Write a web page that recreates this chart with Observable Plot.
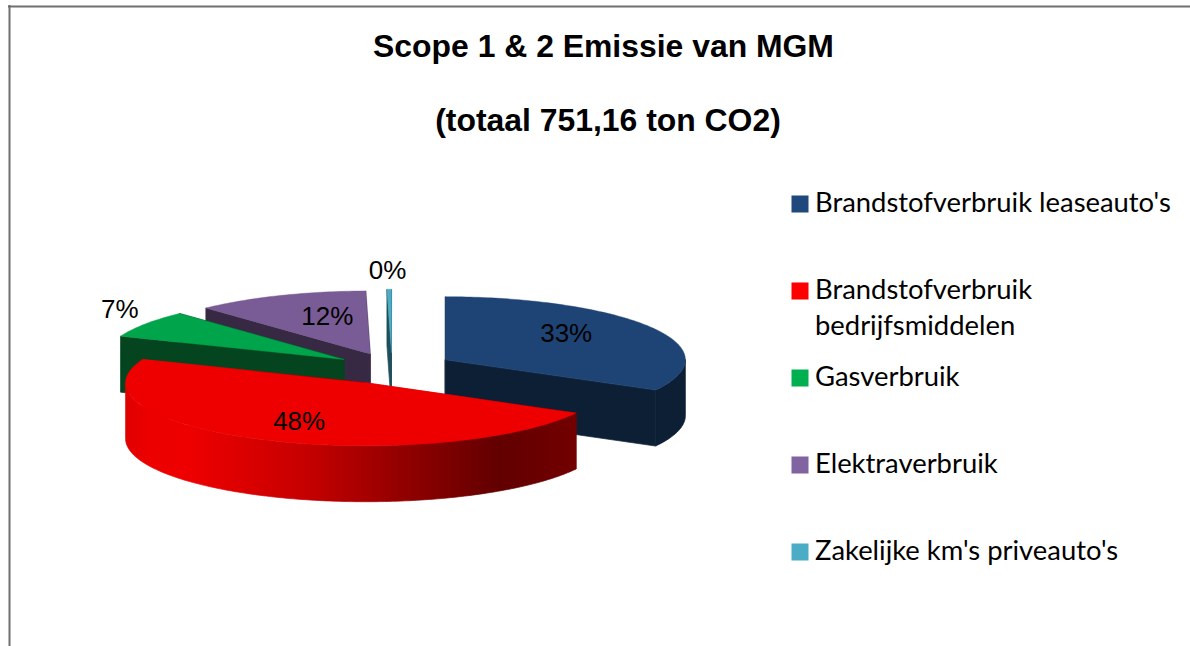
<!DOCTYPE html>
<html>
<head>
<meta charset="utf-8">
<script src="https://cdn.jsdelivr.net/npm/d3@7"></script>
<script src="https://cdn.jsdelivr.net/npm/@observablehq/plot@0.6"></script>
<style>html,body{margin:0;padding:0;background:#fff;overflow:hidden}svg{display:block}</style>
</head>
<body>
<div id="chart"></div>
<script>
const categories = ["Brandstofverbruik leaseauto's", "Brandstofverbruik\nbedrijfsmiddelen", "Gasverbruik", "Elektraverbruik", "Zakelijke km's priveauto's"];
const shares = [33.0, 48.0, 7.0, 11.7, 0.3];
const titleLines = ["Scope 1 & 2 Emissie van MGM", "(totaal 751,16 ton CO2)"];
const legendColors = ["#1F497D", "#FF0000", "#00B050", "#8064A2", "#4BACC6"];
const topColors = ["#1E4475", "#EE0000", "#00A44A", "#795C96", "#4BACC6"];
const sideColors = ["#0D1F35", "url(#redSide)", "#04451F", "#372943", "#1E4F5C"];
const paintOrder = [4, 3, 2, 0, 1];
const explodes = [62, 62, 58.4, 58, 60];
const labelPull = [0.585, 0.65, 1.128, 0.484, 1.3];
const labelNudge = [[0, -7], [0, 2], [0, -10], [1, -9], [-1, 0]];

const W = 1190, H = 646;
const pie = {cx: 391.5, cy: 367.5, rx: 240, ry: 63, depth: 56};
const rad = (d) => d * Math.PI / 180;

const total = d3.sum(shares);
let acc = 0;
const slices = shares.map((v, i) => {
  const a0 = acc * 360 / total; acc += v; const a1 = acc * 360 / total;
  const mid = (a0 + a1) / 2;
  const ax = pie.cx + explodes[i] * Math.sin(rad(mid));
  const ay = pie.cy - explodes[i] * Math.cos(rad(mid)) * pie.ry / pie.rx;
  const at = (deg, k = 1) => ({x: ax + k * pie.rx * Math.sin(rad(deg)), y: ay - k * pie.ry * Math.cos(rad(deg))});
  return {i, a0, a1, mid, ax, ay, at};
});
const arc = (s, from, to) => {
  const n = Math.max(2, Math.ceil(to - from));
  return d3.range(n + 1).map((j) => s.at(from + (to - from) * j / n));
};
const drop = (p) => ({x: p.x, y: p.y + pie.depth});

const faceMarks = [];
const face = (pts, fill, sw = 0.7) => faceMarks.push(Plot.line(pts, {x: "x", y: "y", fill, stroke: fill, strokeWidth: sw, curve: "linear-closed"}));
for (const idx of paintOrder) {
  const s = slices[idx], apex = {x: s.ax, y: s.ay};
  const side = sideColors[idx];
  for (const deg of [s.a1, s.a0]) {
    const p = s.at(deg);
    face([apex, p, drop(p), drop(apex)], side);
  }
  const f0 = Math.max(s.a0, 90), f1 = Math.min(s.a1, 270);
  if (f1 > f0) {
    const top = arc(s, f0, f1);
    face([...top, ...top.map(drop).reverse()], side);
  }
  face([apex, ...arc(s, s.a0, s.a1)], topColors[idx], 0.4);
}

const labels = slices.map((s) => {
  const p = s.at(s.mid, labelPull[s.i]);
  return {x: p.x + labelNudge[s.i][0], y: p.y + labelNudge[s.i][1], text: Math.round(shares[s.i]) + "%"};
});
const legendRows = categories.map((name, i) => ({name, color: legendColors[i], y: 203.5 + 87 * i}));
const titleRows = titleLines.map((text, i) => ({text, x: [603, 607.5][i], y: 46 + 74 * i}));

const svg = Plot.plot({
  width: W, height: H,
  margin: 0,
  x: {domain: [0, W], range: [0, W], axis: null},
  y: {domain: [0, H], range: [0, H], axis: null},
  style: {background: "#fff"},
  marks: [
    Plot.ruleY([6], {x1: 8, x2: W, stroke: "#6f6f6f", strokeWidth: 2}),
    Plot.ruleX([9], {y1: 5, y2: H, stroke: "#6f6f6f", strokeWidth: 2}),
    Plot.text(titleRows, {x: "x", y: "y", text: "text", fontFamily: "Liberation Sans", fontWeight: "bold", fontSize: 31.9, fill: "#000"}),
    ...faceMarks,
    Plot.text(labels, {x: "x", y: "y", text: "text", fontFamily: "Liberation Sans", fontSize: 26, fill: "#000"}),
    Plot.dot(legendRows, {x: () => 799.5, y: "y", r: 9.6, symbol: "square", fill: "color", stroke: "none"}),
    Plot.text(legendRows, {x: () => 814.5, y: (d) => d.y - 17.5, text: "name", textAnchor: "start", lineAnchor: "top", lineHeight: 1.31, fontFamily: "Lato", fontSize: 27.4, fill: "#000"})
  ]
});
const defs = d3.select(svg).append("defs");
const grad = defs.append("linearGradient").attr("id", "redSide").attr("x1", "0").attr("x2", "1").attr("y1", "0").attr("y2", "0");
for (const [o, c] of [[0, "#E00000"], [0.05, "#EC0000"], [0.14, "#EE0000"], [0.4, "#C60000"], [0.6, "#960000"], [0.83, "#620000"], [1, "#720000"]]) {
  grad.append("stop").attr("offset", o).attr("stop-color", c);
}
document.getElementById("chart").append(svg);
</script>
</body>
</html>
